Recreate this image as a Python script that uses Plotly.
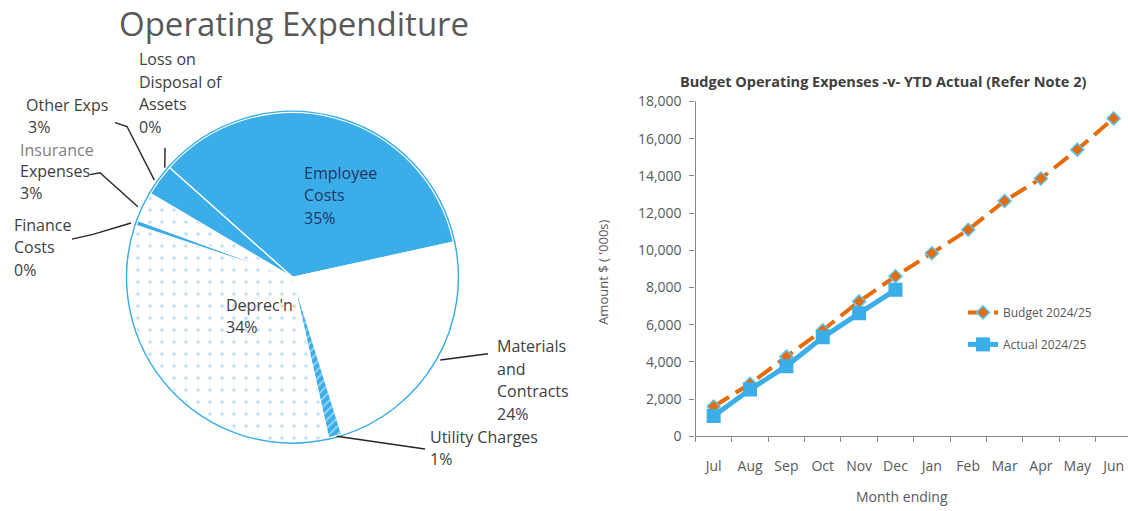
import math
import plotly.graph_objects as go

W, H = 1128, 511


def px(x):
    return x / W


def py(y):
    return 1 - y / H


# ---------------- data ----------------
months = ["Jul", "Aug", "Sep", "Oct", "Nov", "Dec", "Jan", "Feb", "Mar", "Apr", "May", "Jun"]
budget = [1600, 2820, 4280, 5700, 7250, 8600, 9840, 11100, 12650, 13860, 15410, 17090]
actual = [1090, 2510, 3770, 5320, 6610, 7870]

pie_names = ["Employee Costs", "Materials and Contracts", "Utility Charges", "Deprec'n",
             "Finance Costs", "Insurance Expenses", "Other Exps", "Loss on Disposal of Assets"]
pie_label_lines = [["Employee", "Costs"], ["Materials", "and", "Contracts"], ["Utility Charges"],
                   ["Deprec'n"], ["Finance", "Costs"], ["Insurance", "Expenses"], ["Other Exps"],
                   ["Loss on", "Disposal of", "Assets"]]
pie_values = [35.0, 23.6, 1.3, 33.6, 0.49, 2.9, 3.1, 0.0]

# ---------------- style ----------------
BLUE = "#3BADE9"
ORANGE = "#E46C0A"
AXIS = "#868686"
TXT = "#595959"
LBL = "#404040"
FONT = "Open Sans"

fig = go.Figure()

# ---------------- pie ----------------
CX, CY, R = 292.5, 277.5, 171.0
ROT = -48.3
pie_dom = dict(x=[px(CX - R), px(CX + R)], y=[py(CY + R), py(CY - R)])

fill_colors = [BLUE, "white", BLUE, "white", BLUE, "white", BLUE, BLUE]
pat_shapes = ["", "", "/", ".", "", ".", "", ""]
pat_fg = [BLUE, BLUE, "white", "#7FC6F0", BLUE, "#7FC6F0", BLUE, BLUE]
pat_size = [8, 8, 6, 12, 8, 12, 8, 8]
pat_sol = [0.3, 0.3, 0.3, 0.075, 0.3, 0.075, 0.3, 0.3]

# outline layer
fig.add_trace(go.Pie(
    values=pie_values, labels=pie_names, sort=False, direction="clockwise", rotation=ROT,
    domain=pie_dom, textinfo="none", hoverinfo="skip", showlegend=False,
    marker=dict(colors=[BLUE] * len(pie_values), line=dict(color=BLUE, width=4)),
))
# fill layer
fig.add_trace(go.Pie(
    values=pie_values, labels=pie_names, sort=False, direction="clockwise", rotation=ROT,
    domain=pie_dom, textinfo="none", showlegend=False,
    marker=dict(colors=fill_colors, line=dict(color="white", width=1.1),
                pattern=dict(shape=pat_shapes, fgcolor=pat_fg, size=pat_size,
                             solidity=pat_sol, fillmode="overlay")),
))

# ---------------- line chart ----------------
fig.add_trace(go.Scatter(
    x=months, y=budget, name="Budget 2024/25", mode="lines+markers", legendgroup="b",
    line=dict(color=ORANGE, width=4, dash="18px,8px"),
    marker=dict(symbol="diamond", size=10, color=ORANGE, line=dict(color="#5BC4F1", width=1.5)),
))
fig.add_trace(go.Scatter(
    x=months[:len(actual)], y=actual, name="Actual 2024/25", mode="lines+markers", legendgroup="a",
    line=dict(color=BLUE, width=5),
    marker=dict(symbol="square", size=14, color=BLUE),
))

# ---------------- pie labels & leader lines ----------------
tot = sum(pie_values)
mids = []
cum = ROT
for v in pie_values:
    a1 = cum + v / tot * 360
    mids.append((cum + a1) / 2)
    cum = a1


def edge(i):
    a = math.radians(mids[i])
    return CX + R * math.sin(a), CY - R * math.cos(a)


# label layout: (left x, first line centre y, line step, colour, leader elbow points)
label_layout = {
    0: (302, 169, 23.5, "#1F3864", None),
    1: (495, 349, 23.5, LBL, [(488, 357)]),
    2: (428, 443, 23.5, LBL, [(425, 456)]),
    3: (224, 306, 23.5, LBL, None),
    4: (12, 223, 23.5, LBL, [(72, 238), (93, 233)]),
    5: (18, 145, 22.5, LBL, [(90, 171), (100, 169)]),
    6: (24, 99, 22.0, LBL, [(115, 117), (127, 121)]),
    7: (137, 51, 23.5, LBL, [(165, 143)]),
}
annotations = []
shapes = []
for i, lines in enumerate(pie_label_lines):
    lx, ly, step, col, elbow = label_layout[i]
    pct = f"{round(pie_values[i] / tot * 100):.0f}%"
    rows = lines + [pct]
    for k, row in enumerate(rows):
        c = col
        if i == 5 and k == 0:
            c = "#7F7F7F"
        annotations.append(dict(
            x=px(lx + (2 if (i == 6 and k == 1) else 0)), y=py(ly + k * step), xref="paper", yref="paper",
            text=row, showarrow=False, xanchor="left", yanchor="middle",
            font=dict(family=FONT, size=16, color=c)))
    if elbow:
        pts = elbow + [edge(i)]
        path = "M " + " L ".join(f"{px(x):.5f},{py(y):.5f}" for x, y in pts)
        shapes.append(dict(type="path", path=path, xref="paper", yref="paper",
                           line=dict(color="#262626", width=1.4)))

# titles
annotations.append(dict(x=px(294), y=py(14), xref="paper", yref="paper", text="Operating Expenditure",
                        showarrow=False, xanchor="center", yanchor="middle",
                        font=dict(family=FONT, size=33, color=TXT)))
annotations.append(dict(x=px(883), y=py(74), xref="paper", yref="paper",
                        text="<b>Budget Operating Expenses -v- YTD Actual (Refer Note 2)</b>",
                        showarrow=False, xanchor="center", yanchor="middle",
                        font=dict(family=FONT, size=14.5, color=LBL)))
annotations.append(dict(x=px(603), y=py(273), xref="paper", yref="paper", text="Amount $ ( '000s)",
                        textangle=-90, showarrow=False, xanchor="center", yanchor="middle",
                        font=dict(family=FONT, size=13, color=TXT)))
annotations.append(dict(x=px(902), y=py(505), xref="paper", yref="paper", text="Month ending",
                        showarrow=False, xanchor="center", yanchor="middle",
                        font=dict(family=FONT, size=14, color=TXT)))

CAT_W = 36.36
X0 = 695.5
fig.update_layout(
    width=W, height=H, margin=dict(l=0, r=0, t=0, b=0),
    paper_bgcolor="white", plot_bgcolor="white",
    font=dict(family=FONT, color=TXT),
    xaxis=dict(domain=[px(X0), 1.0], type="category", range=[-0.5, (W - X0) / CAT_W - 0.5],
               ticks="outside", tickson="boundaries", ticklen=5, tickcolor=AXIS, tickangle=0,
               showline=True, linecolor=AXIS, linewidth=1.3, showgrid=False,
               tickfont=dict(family=FONT, size=14, color=TXT), ticklabelstandoff=17),
    yaxis=dict(domain=[py(442.7), py(95)], range=[0, 18000], dtick=2000, tickformat=",",
               ticks="outside", ticklen=5, tickcolor=AXIS, showline=True, linecolor=AXIS,
               linewidth=1.3, showgrid=False, zeroline=False,
               tickfont=dict(family=FONT, size=14, color=TXT), ticklabelstandoff=5),
    legend=dict(x=px(963), y=py(299), xanchor="left", yanchor="top", traceorder="grouped",
                tracegroupgap=13, bgcolor="rgba(0,0,0,0)",
                font=dict(family=FONT, size=12, color=TXT)),
    showlegend=True,
    annotations=annotations,
    shapes=shapes,
)

fig.write_html("out.html")
